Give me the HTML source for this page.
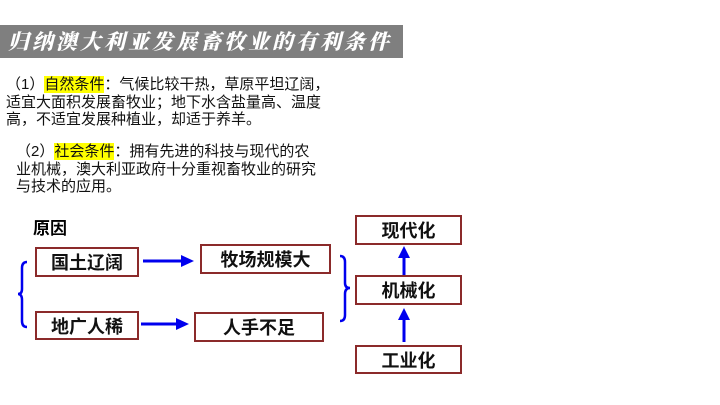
<!DOCTYPE html>
<html><head><meta charset="utf-8"><style>
body{margin:0;width:720px;height:405px;background:#fff;position:relative;overflow:hidden;font-family:"Liberation Sans","Noto Sans CJK SC",sans-serif;}
.t{position:absolute;left:0;top:25px;width:403px;height:33px;background:#7f7f7f;color:#fff;font-family:"Noto Serif CJK SC",serif;font-weight:900;font-size:21px;line-height:33px;letter-spacing:3px;padding-left:8px;box-sizing:border-box;font-style:italic;}
.p{position:absolute;font-size:15px;line-height:17.5px;color:#111;}
.h{background:#ffff00;}
.b{position:absolute;border:2px solid #8b2a2a;box-sizing:border-box;font-weight:bold;font-size:18px;display:flex;align-items:center;justify-content:center;color:#111;}
</style></head><body>
<div class="t">归纳澳大利亚发展畜牧业的有利条件</div>
<div class="p" style="left:6px;top:76px;width:420px">（1）<span class="h">自然条件</span>：气候比较干热，草原平坦辽阔，<br>适宜大面积发展畜牧业；地下水含盐量高、温度<br>高，不适宜发展种植业，却适于养羊。</div>
<div class="p" style="left:16px;top:143px;width:420px">（2）<span class="h">社会条件</span>：拥有先进的科技与现代的农<br>业机械，澳大利亚政府十分重视畜牧业的研究<br>与技术的应用。</div>
<div style="position:absolute;left:33px;top:214px;font-weight:bold;font-size:17px">原因</div>
<div class="b" style="left:35px;top:247px;width:104px;height:30px">国土辽阔</div>
<div class="b" style="left:200px;top:244px;width:131px;height:30px">牧场规模大</div>
<div class="b" style="left:35px;top:311px;width:104px;height:29px">地广人稀</div>
<div class="b" style="left:194px;top:312px;width:130px;height:30px">人手不足</div>
<div class="b" style="left:355px;top:215px;width:107px;height:30px">现代化</div>
<div class="b" style="left:355px;top:275px;width:107px;height:30px">机械化</div>
<div class="b" style="left:355px;top:345px;width:107px;height:29px">工业化</div>
<svg width="720" height="405" style="position:absolute;left:0;top:0">
<g stroke="#0000ee" stroke-width="3" fill="none">
<line x1="143" y1="261" x2="183" y2="261"/>
<line x1="141" y1="324" x2="178" y2="324"/>
<line x1="404" y1="275" x2="404" y2="256"/>
<line x1="404" y1="342" x2="404" y2="318"/>
<path d="M27 262 Q22 262 22 268 L22 289 Q22 294 18 294 Q22 294 22 300 L22 321 Q22 327 27 327" stroke-width="2.5"/>
<path d="M340 256 Q345 256 345 262 L345 283 Q345 288 350 288 Q345 288 345 294 L345 315 Q345 321 340 321" stroke-width="2.5"/>
</g>
<g fill="#0000ee">
<polygon points="181,255 194,261 181,267"/>
<polygon points="176,318 189,324 176,330"/>
<polygon points="398,258 404,246 410,258"/>
<polygon points="398,320 404,308 410,320"/>
</g>
</svg>
</body></html>
